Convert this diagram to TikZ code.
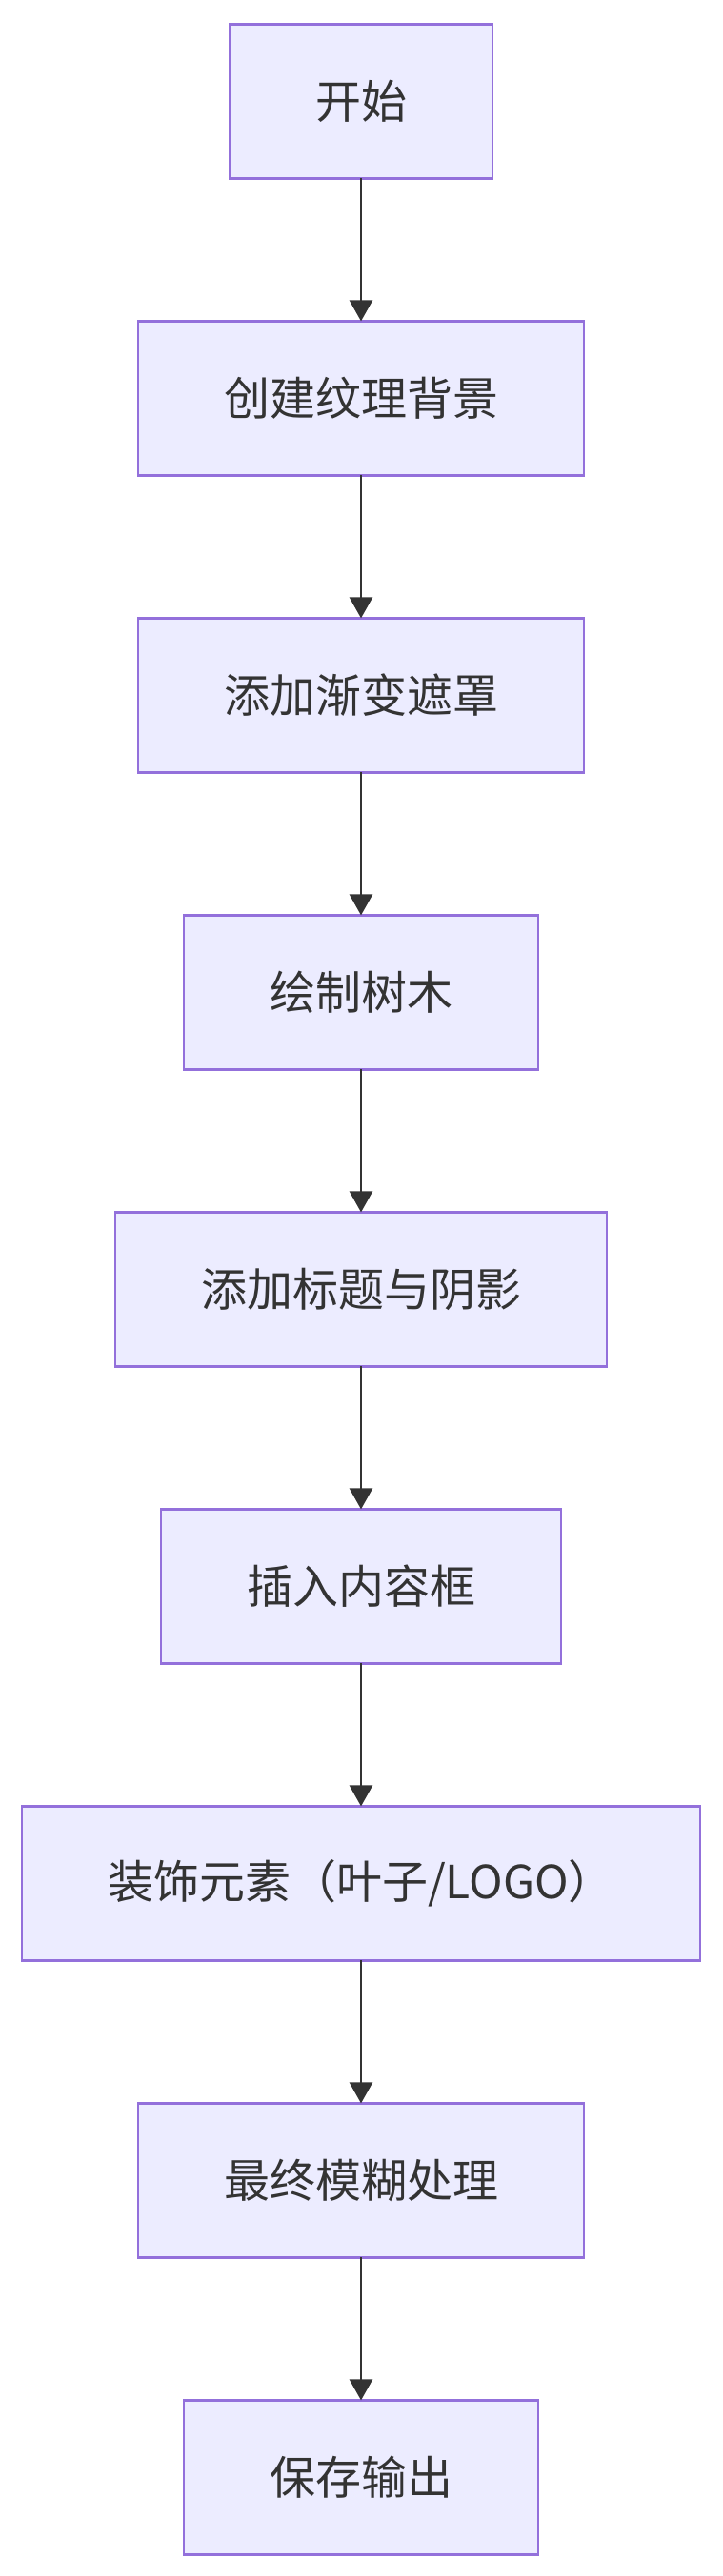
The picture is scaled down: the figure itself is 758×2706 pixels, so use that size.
\documentclass[tikz,border=0pt]{standalone}
\usepackage{fontspec}
\setmainfont{Noto Sans CJK SC}
\usetikzlibrary{positioning, arrows.meta}

\definecolor{boxfill}{HTML}{ECECFF}
\definecolor{boxline}{HTML}{9370DB}
\definecolor{ink}{HTML}{333333}

\begin{document}
\begin{tikzpicture}[node distance=150pt, >={Triangle[length=22pt,width=24pt]}]

\tikzset{
  block/.style={
    rectangle, draw=boxline, fill=boxfill, line width=2.7pt,
    align=center, text=ink, outer sep=0pt,
    minimum height=162pt, inner xsep=90pt, inner ysep=0pt,
    font=\fontsize{48}{58}\selectfont
  },
  arrow/.style={->, draw=ink, line width=2.7pt}
}

\useasboundingbox (0,0) rectangle (758pt,-2706pt);

% ==========================
% Pasos del flujo
% ==========================
\node[block] (start) at (379pt,-106.4pt) {开始};
\node[block, below=of start] (texture) {创建纹理背景};
\node[block, below=of texture] (mask) {添加渐变遮罩};
\node[block, below=of mask] (trees) {绘制树木};
\node[block, below=of trees] (title) {添加标题与阴影};
\node[block, below=of title] (content) {插入内容框};
\node[block, below=of content] (decor) {装饰元素（叶子/LOGO）};
\node[block, below=of decor] (blur) {最终模糊处理};
\node[block, below=of blur] (save) {保存输出};

% ==========================
% Conexiones
% ==========================
\draw[arrow] (start) -- (texture);
\draw[arrow] (texture) -- (mask);
\draw[arrow] (mask) -- (trees);
\draw[arrow] (trees) -- (title);
\draw[arrow] (title) -- (content);
\draw[arrow] (content) -- (decor);
\draw[arrow] (decor) -- (blur);
\draw[arrow] (blur) -- (save);

\end{tikzpicture}
\end{document}
